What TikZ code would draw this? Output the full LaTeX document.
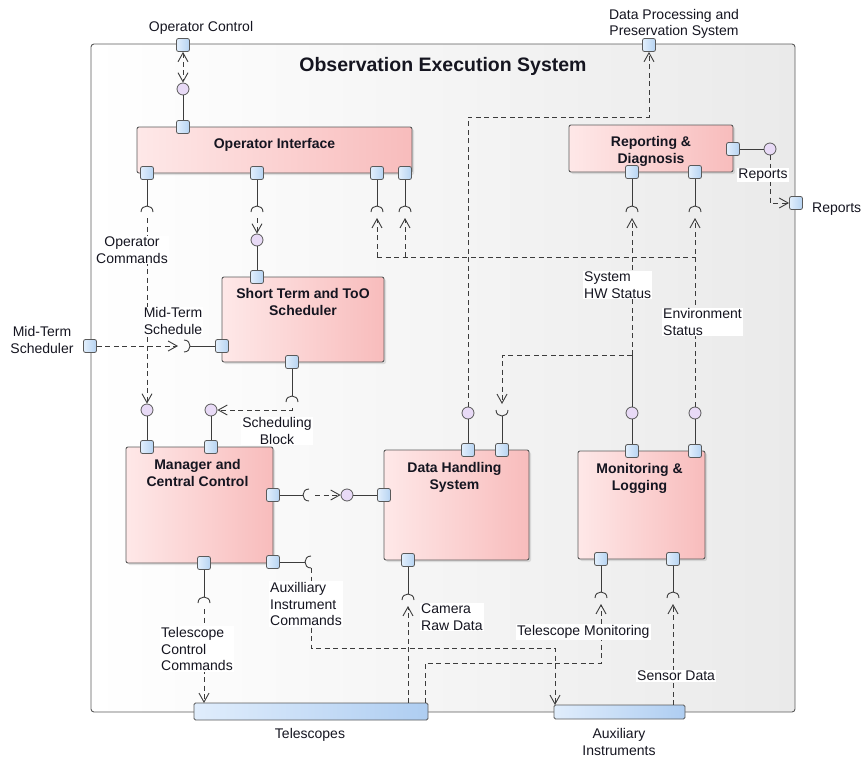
\documentclass[tikz,border=0pt]{standalone}
\usepackage{fontspec}
\setmainfont{Liberation Sans}
\usetikzlibrary{arrows.meta,shadows,calc}
\definecolor{boxL}{HTML}{FEE8E8}
\definecolor{boxR}{HTML}{F8BCBC}
\definecolor{portL}{HTML}{E2EFFC}
\definecolor{portR}{HTML}{B6D3F2}
\definecolor{ballC}{HTML}{E8DAF6}
\definecolor{barL}{HTML}{E0EDFC}
\definecolor{barR}{HTML}{AECDF1}
\definecolor{frameR}{HTML}{EAEAEA}
\definecolor{edgeC}{HTML}{5A5A5A}
\definecolor{lnC}{HTML}{3C3C3C}
\definecolor{txtC}{HTML}{151520}
\tikzset{
  sockD/.pic={\draw[sockln] (-6,0) .. controls (-6,-8) and (6,-8) .. (6,0);
    \coordinate (-apex) at (0,-6); \coordinate (-tip) at (0,6);},
  sockU/.pic={\draw[sockln] (-6,0) .. controls (-6,8) and (6,8) .. (6,0);
    \coordinate (-apex) at (0,6); \coordinate (-tip) at (0,-6);},
  sockL/.pic={\draw[sockln] (0,-6) .. controls (8,-6) and (8,6) .. (0,6);
    \coordinate (-apex) at (6,0); \coordinate (-tip) at (-6,0);},
  sockR/.pic={\draw[sockln] (0,-6) .. controls (-8,-6) and (-8,6) .. (0,6);
    \coordinate (-apex) at (-6,0); \coordinate (-tip) at (6,0); \coordinate (-lo) at (0,6);},
}
\begin{document}
\begin{tikzpicture}[x=1pt,y=-1pt,
  every node/.style={text=txtC},
  lab/.style={font=\fontsize{14}{16.5}\selectfont, inner sep=1pt, align=center},
  wlab/.style={lab, fill=white},
  boxtxt/.style={font=\fontsize{14}{16.5}\selectfont\bfseries, inner sep=0pt, align=center, anchor=north},
  sysframe/.style={rectangle, rounded corners=3pt, draw=edgeC, line width=0.9pt, left color=white, right color=frameR, minimum width=704pt, minimum height=668pt},
  box/.style={rectangle, rounded corners=2pt, draw=edgeC, line width=0.9pt, left color=boxL, right color=boxR, drop shadow={opacity=0.22, shadow xshift=2pt, shadow yshift=-2pt}},
  port/.style={rectangle, rounded corners=2pt, draw=edgeC, line width=0.8pt, left color=portL, right color=portR, minimum size=13pt, inner sep=0pt},
  ball/.style={circle, draw=edgeC, line width=0.8pt, fill=ballC, minimum size=12pt, inner sep=0pt},
  bar/.style={rectangle, rounded corners=1.5pt, draw=edgeC, line width=0.8pt, left color=barL, right color=barR, inner sep=0pt},
  conn/.style={draw=lnC, line width=1pt},
  sockln/.style={draw=lnC, line width=0.9pt},
  dep/.style={draw=lnC, line width=0.9pt, dash pattern=on 5pt off 3.5pt},
  arr/.style={-{Straight Barb[length=9pt,width=10pt]}},
  biarr/.style={{Straight Barb[length=9pt,width=10pt]}-{Straight Barb[length=9pt,width=10pt]}},
]
\useasboundingbox (0,0) rectangle (863,758);

% system frame and title
\node[sysframe] (oes) at (443,378) {};
\node[font=\fontsize{19.5}{22}\selectfont\bfseries] (title) at (443,66) {Observation Execution System};

% components
\node[box, minimum width=275pt, minimum height=46pt] (oi) at (274.5,150) {};
\node[boxtxt] (oit) at ($(oi.north)+(0,12)$) {Operator Interface};
\node[box, minimum width=164pt, minimum height=47pt] (rd) at (651,148.5) {};
\node[boxtxt] (rdt) at ($(rd.north)+(0,12)$) {Reporting \&\\Diagnosis};
\node[box, minimum width=162pt, minimum height=85pt] (st) at (303,319.5) {};
\node[boxtxt] (stt) at ($(st.north)+(0,12)$) {Short Term and ToO\\Scheduler};
\node[box, minimum width=147pt, minimum height=116pt] (mcc) at (199.5,505) {};
\node[boxtxt] (mcct) at ($(mcc.north)+(-2,13)$) {Manager and\\Central Control};
\node[box, minimum width=145pt, minimum height=110pt] (dh) at (456.5,505) {};
\node[boxtxt] (dht) at ($(dh.north)+(-2,13)$) {Data Handling\\System};
\node[box, minimum width=127pt, minimum height=108pt] (ml) at (641.5,505) {};
\node[boxtxt] (mlt) at ($(ml.north)+(-2,13)$) {Monitoring \&\\Logging};

% bars
\node[bar, minimum width=234pt, minimum height=17pt] (tel) at (311,711.5) {};
\node[bar, minimum width=131pt, minimum height=14pt] (aux) at (619.5,712) {};
\coordinate (tel1) at (204,703);
\coordinate (tel2) at (408,703);
\coordinate (tel3) at (425,703);
\coordinate (aux1) at (555,705);
\coordinate (aux2) at (673,705);

% ports
\node[port] (poc) at (183,45) {};
\node[port] (pdps) at (649,45) {};
\node[port] (pms) at (90,346) {};
\node[port] (prep) at (796,203) {};
\node[port] (poit) at (183,127) {};
\node[port] (poi1) at (147,173) {};
\node[port] (poi2) at (257,173) {};
\node[port] (poi3) at (377,173) {};
\node[port] (poi4) at (405,173) {};
\node[port] (prdr) at (733,149) {};
\node[port] (prd1) at (632,172) {};
\node[port] (prd2) at (695,172) {};
\node[port] (pstt) at (257,277) {};
\node[port] (pstl) at (222,346) {};
\node[port] (pstb) at (292,362) {};
\node[port] (pmt1) at (147,447) {};
\node[port] (pmt2) at (211,447) {};
\node[port] (pmr1) at (273,495) {};
\node[port] (pmr2) at (273,562) {};
\node[port] (pmb) at (204,563) {};
\node[port] (pdht1) at (468,450) {};
\node[port] (pdht2) at (502,450) {};
\node[port] (pdhl) at (384,495) {};
\node[port] (pdhb) at (408,560) {};
\node[port] (pmlt1) at (632,451) {};
\node[port] (pmlt2) at (695,451) {};
\node[port] (pmlb1) at (601,559) {};
\node[port] (pmlb2) at (673,559) {};

% provided interfaces (balls)
\node[ball] (boc) at (183,89) {};
\node[ball] (bst) at (257,240) {};
\node[ball] (bm1) at (147,410) {};
\node[ball] (bm2) at (211,410) {};
\node[ball] (bdh) at (347,495) {};
\node[ball] (bdh2) at (468,413) {};
\node[ball] (bml1) at (632,413) {};
\node[ball] (bml2) at (695,413) {};
\node[ball] (brd) at (770,149) {};

% required interfaces (sockets)
\pic (s1) at (147,212) {sockD};
\pic (s2) at (257,212) {sockD};
\pic (s3) at (377,212) {sockD};
\pic (s4) at (405,212) {sockD};
\pic (s5) at (632,212) {sockD};
\pic (s6) at (695,212) {sockD};
\pic (s7) at (184,346) {sockL};
\pic (s8) at (292,402) {sockD};
\pic (s9) at (309,495) {sockR};
\pic (s10) at (311,562) {sockR};
\pic (s11) at (204,603) {sockD};
\pic (s12) at (502,410) {sockU};
\pic (s13) at (408,600) {sockD};
\pic (s14) at (601,598) {sockD};
\pic (s15) at (673,598) {sockD};

% junctions
\coordinate (j1) at (377,257);
\coordinate (j2) at (405,257);
\coordinate (j6) at (695,257);
\coordinate (j3) at (632,355);
\coordinate (j4) at (468,117);
\coordinate (j5) at (311,648);
\coordinate (j7) at (425,663);

% connectors
\draw[dep,biarr] (poc) -- (boc);
\draw[conn] (boc) -- (poit);
\draw[conn] (poi1) -- (s1-apex);
\draw[dep,arr] (s1-tip) -- (bm1);
\draw[conn] (poi2) -- (s2-apex);
\draw[dep,arr] (s2-tip) -- (bst);
\draw[conn] (bst) -- (pstt);
\draw[conn] (poi3) -- (s3-apex);
\draw[conn] (poi4) -- (s4-apex);
\draw[dep,arr] (j1) -- (s3-tip);
\draw[dep,arr] (j2) -- (s4-tip);
\draw[dep] (j1) -- (j6);
\draw[conn] (prd1) -- (s5-apex);
\draw[conn] (prd2) -- (s6-apex);
\draw[dep,arr] (j3) -- (s5-tip);
\draw[dep,arr] (bml2) -- (s6-tip);
\draw[conn] (bml1) -- (j3);
\draw[dep,arr] (j3) -| (s12-tip);
\draw[conn] (pdht2) -- (s12-apex);
\draw[conn] (pdht1) -- (bdh2);
\draw[dep,arr] (bdh2) -- (j4) -| (pdps);
\draw[conn] (prdr) -- (brd);
\draw[dep,arr] (brd) |- (prep);
\draw[dep,arr] (pms) -- (s7-tip);
\draw[conn] (s7-apex) -- (pstl);
\draw[conn] (pstb) -- (s8-apex);
\draw[dep,arr] (s8-tip) |- (bm2);
\draw[conn] (pmt1) -- (bm1);
\draw[conn] (pmt2) -- (bm2);
\draw[conn] (pmr1) -- (s9-apex);
\draw[dep,arr] (s9-tip) -- (bdh);
\draw[conn] (bdh) -- (pdhl);
\draw[conn] (pmr2) -- (s10-apex);
\draw[dep,arr] (s10-lo) -- (j5) -| (aux1);
\draw[conn] (pmb) -- (s11-apex);
\draw[dep,arr] (s11-tip) -- (tel1);
\draw[conn] (pdhb) -- (s13-apex);
\draw[dep,arr] (tel2) -- (s13-tip);
\draw[dep,arr] (tel3) -- (j7) -| (s14-tip);
\draw[conn] (pmlb1) -- (s14-apex);
\draw[conn] (pmlb2) -- (s15-apex);
\draw[dep,arr] (aux2) -- (s15-tip);
\draw[conn] (pmlt1) -- (bml1);
\draw[conn] (pmlt2) -- (bml2);

% labels
\node[lab] (l1) at (201,28) {Operator Control};
\node[lab] (l2) at (674,24) {Data Processing and\\Preservation System};
\node[lab, anchor=west] (l3) at (811,209) {Reports};
\node[wlab] (l4) at (763,175) {Reports};
\node[wlab] (l5) at (132,250) {Operator\\Commands};
\node[wlab] (l6) at (173,321) {Mid-Term\\Schedule};
\node[lab] (l7) at (42,340) {Mid-Term\\Scheduler};
\node[wlab] (l8) at (277,431) {Scheduling\\Block};
\node[wlab, anchor=west, align=left] (l9) at (583,285) {System\\HW Status};
\node[wlab, anchor=west, align=left] (l10) at (662,322) {Environment\\Status};
\node[wlab, anchor=west, align=left] (l11) at (160,649) {Telescope\\Control\\Commands};
\node[wlab, anchor=west, align=left] (l12) at (269,604) {Auxilliary\\Instrument\\Commands};
\node[wlab, anchor=west, align=left] (l13) at (420,617) {Camera\\Raw Data};
\node[wlab, anchor=west] (l14) at (516,632) {Telescope Monitoring};
\node[wlab, anchor=west] (l15) at (636,676) {Sensor Data};
\node[lab] (l16) at (310,735) {Telescopes};
\node[lab] (l17) at (619,742) {Auxiliary\\Instruments};
\end{tikzpicture}
\end{document}
